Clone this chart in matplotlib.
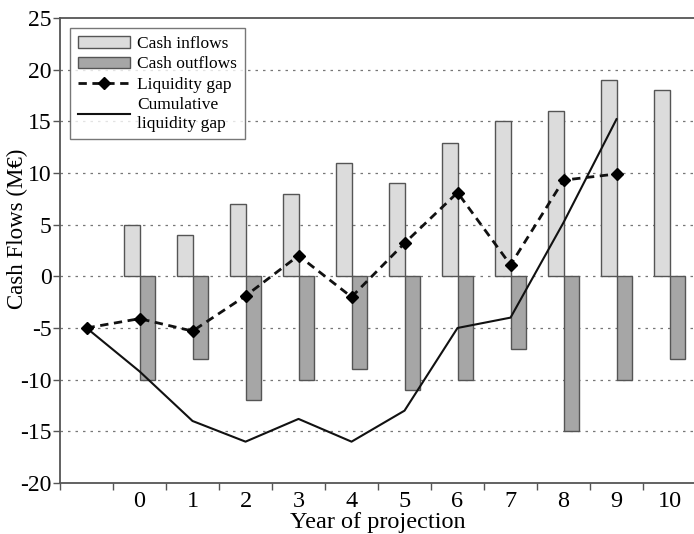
import numpy as np
from matplotlib import pyplot as plt

plt.rcParams['font.family'] = ['Liberation Serif', 'DejaVu Serif']
plt.rcParams['axes.unicode_minus'] = False

# categories along the x axis (first one is the unlabeled start point)
categories = ['', '0', '1', '2', '3', '4', '5', '6', '7', '8', '9', '10']

# values per category (nan where nothing is drawn)
cash_inflows = [np.nan, 5, 4, 7, 8, 11, 9, 12.9, 15, 16, 19, 18]
cash_outflows = [np.nan, -10, -8, -12, -10, -9, -11, -10, -7, -15, -10, -8]
liquidity_gap = [-5, -4.1, -5.3, -1.9, 2.0, -2.0, 3.2, 8.1, 1.1, 9.3, 9.9, np.nan]
cumulative_gap = [-5, -9.2, -14, -16, -13.8, -16, -13, -5, -4, 5.2, 15.2, np.nan]

fig = plt.figure(figsize=(6.94, 5.34), dpi=100)
ax = fig.add_axes([0.0865, 0.0955, 0.9164, 0.871])

x = np.arange(len(categories))
w = 0.29

b1 = ax.bar(x - w / 2, cash_inflows, w, color='#dcdcdc', edgecolor='#555555',
            linewidth=1, label='Cash inflows', zorder=2)
b2 = ax.bar(x + w / 2, cash_outflows, w, color='#a6a6a6', edgecolor='#555555',
            linewidth=1, label='Cash outflows', zorder=2)
l1, = ax.plot(x, liquidity_gap, color='#111111', linestyle=(0, (3, 2)), linewidth=2,
              marker='D', markersize=6, markerfacecolor='black', markeredgecolor='black',
              label='Liquidity gap', zorder=4)
l2, = ax.plot(x, cumulative_gap, color='#111111', linewidth=1.5,
              label='Cumulative\nliquidity gap', zorder=3)

ax.set_xlim(-0.5, 11.5)
ax.set_ylim(-20, 25)
ax.set_yticks(range(-20, 26, 5))
for v in range(-15, 25, 5):
    ax.axhline(v, color='#777777', linestyle=(0, (2, 4)), linewidth=0.9, zorder=1)

ax.set_xticks(x)
ax.set_xticklabels(categories)
ax.set_xticks(np.arange(-0.5, 11.6, 1), minor=True)
ax.tick_params(axis='x', which='major', length=0, labelsize=17.5, pad=6)
ax.tick_params(axis='x', which='minor', length=5, width=1, color='#555555')
ax.tick_params(axis='y', length=5, width=1, color='#555555', labelsize=17, pad=1)

for s in ['left', 'bottom', 'top']:
    ax.spines[s].set_color('#555555')
    ax.spines[s].set_linewidth(1.3)
ax.spines['right'].set_visible(False)

ax.set_ylabel('Cash Flows (M€)', fontsize=16.5)
ax.yaxis.set_label_coords(-0.051, 0.546)
ax.set_xlabel('Year of projection', fontsize=17.5, labelpad=0)

leg = ax.legend([b1, b2, l1, l2],
                ['Cash inflows', 'Cash outflows', 'Liquidity gap', 'Cumulative\nliquidity gap'],
                loc='upper left', fontsize=12.5, frameon=True, fancybox=False,
                edgecolor='#555555', handlelength=3.0, handleheight=0.65,
                labelspacing=0.25, borderpad=0.45, handletextpad=0.4,
                borderaxespad=0.6)
leg.get_frame().set_linewidth(1)

fig.savefig('out.png', dpi=100)
